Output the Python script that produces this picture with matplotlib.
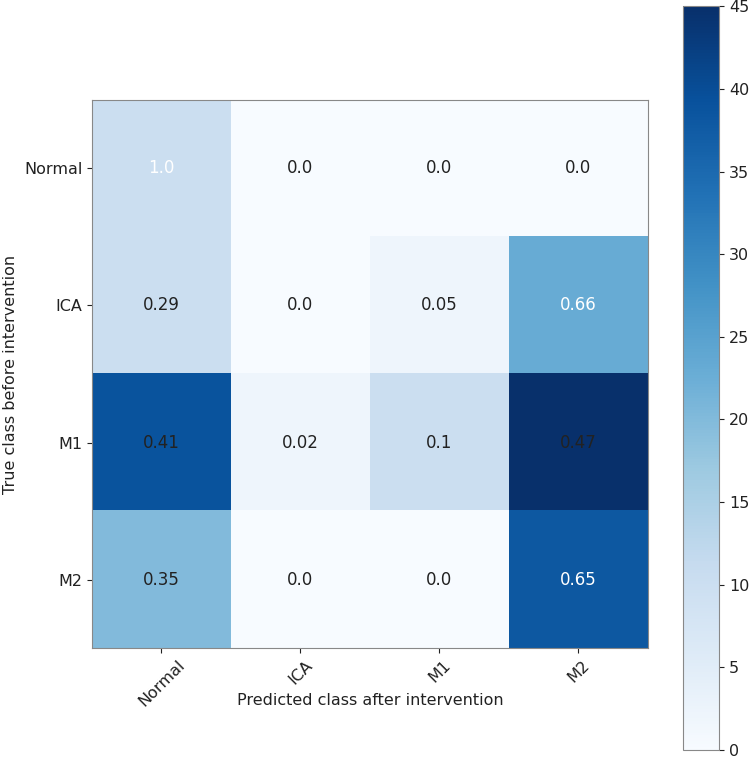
import numpy as np
import matplotlib
matplotlib.use("Agg")
import matplotlib.pyplot as plt

CLASSES = ["Normal", "ICA", "M1", "M2"]
# counts (colour scale 0-45)
COUNTS = np.array([
    [10, 0, 0, 0],
    [10, 0, 2, 23],
    [39, 2, 10, 45],
    [20, 0, 0, 38],
])
# row-normalised values as printed in each cell
LABELS = [
    ["1.0", "0.0", "0.0", "0.0"],
    ["0.29", "0.0", "0.05", "0.66"],
    ["0.41", "0.02", "0.1", "0.47"],
    ["0.35", "0.0", "0.0", "0.65"],
]

plt.rcParams.update({"font.size": 11.5, "axes.edgecolor": "#888888"})

fig = plt.figure(figsize=(7.49, 7.58), dpi=100)
ax = fig.add_axes([0.1228, 0.1451, 0.742, 0.723])
cax = fig.add_axes([0.912, 0.0106, 0.048, 0.981])

im = ax.imshow(COUNTS, cmap="Blues", vmin=0, vmax=45, aspect="auto",
               interpolation="nearest")
cb = fig.colorbar(im, cax=cax, ticks=range(0, 50, 5))
cb.outline.set_edgecolor("#888888")
cax.tick_params(labelsize=11.5, colors="#222222")

for i in range(len(CLASSES)):
    for j in range(len(CLASSES)):
        txt = LABELS[i][j]
        col = "white" if float(txt) > 0.5 else "#222222"
        ax.text(j, i, txt, ha="center", va="center", color=col, fontsize=12)

ax.set_xticks(range(len(CLASSES)))
ax.set_yticks(range(len(CLASSES)))
ax.set_xticklabels(CLASSES, rotation=45)
ax.set_yticklabels(CLASSES)
ax.tick_params(colors="#222222")
ax.set_xlabel("Predicted class after intervention", color="#222222")
ax.xaxis.set_label_coords(0.5, -0.082)
ax.set_ylabel("True class before intervention", color="#222222")

fig.savefig("out.png", dpi=100)
